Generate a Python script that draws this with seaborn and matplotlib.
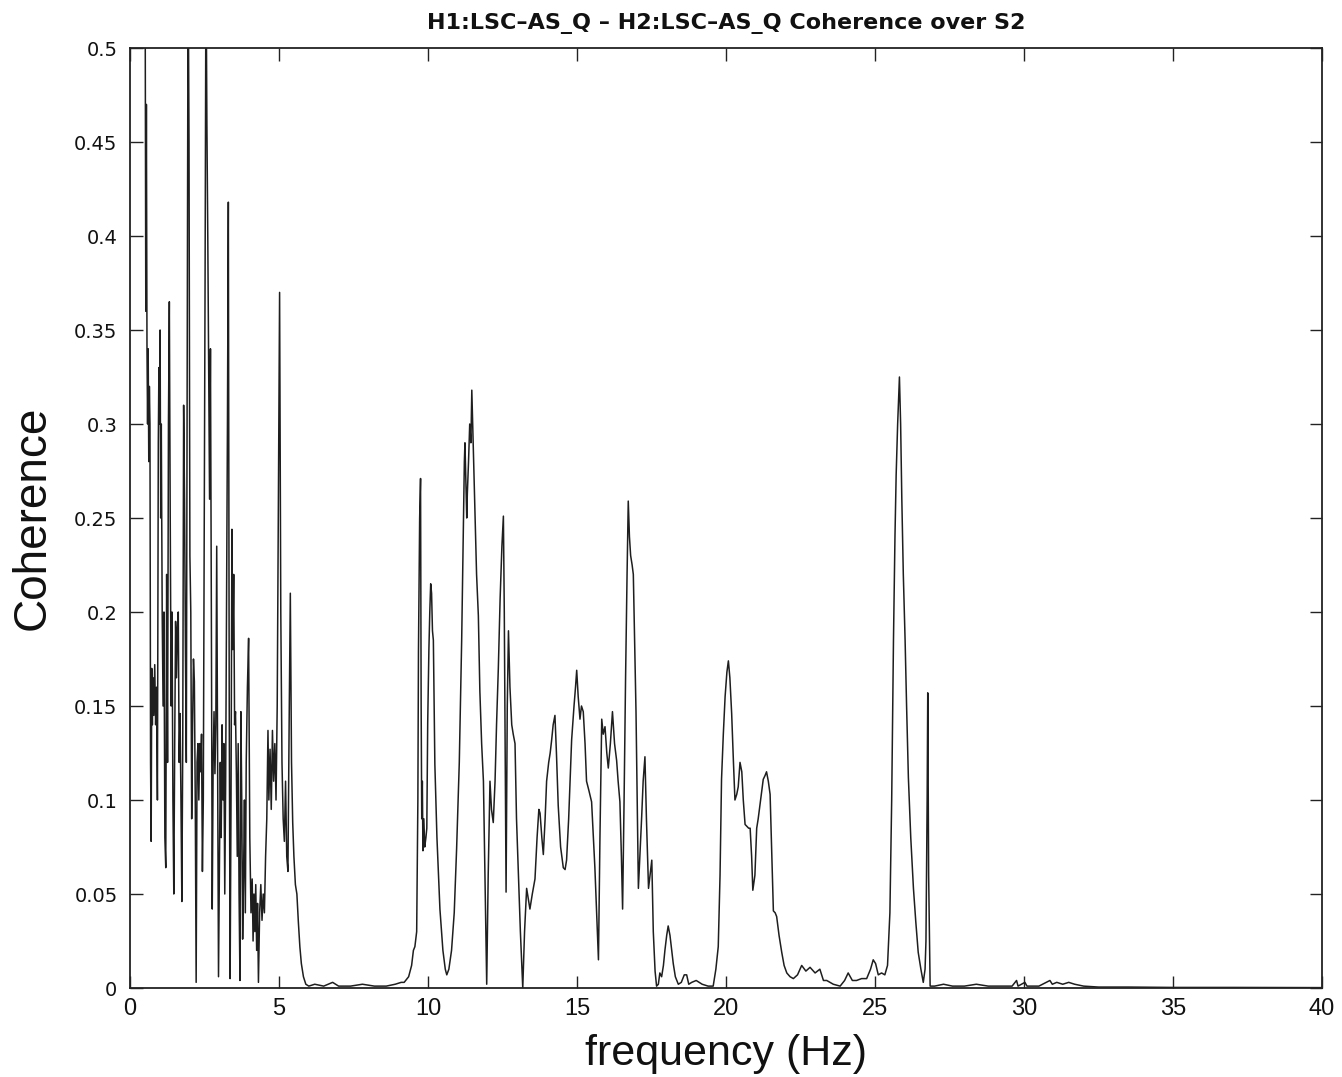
import numpy as np
import pandas as pd
import matplotlib
matplotlib.use("Agg")
import matplotlib.pyplot as plt
import seaborn as sns
from matplotlib import font_manager

# ---------------- data ----------------
f_low = [0.50, 0.53, 0.55, 0.57, 0.59, 0.61, 0.63, 0.65, 0.67, 0.69, 0.71, 0.73, 0.75, 0.77, 0.80,
         0.83, 0.86, 0.89, 0.92, 0.95, 0.97, 0.99, 1.01, 1.03, 1.05, 1.08, 1.11, 1.14, 1.17, 1.20,
         1.23, 1.26, 1.29, 1.32, 1.35, 1.38, 1.41, 1.44, 1.47, 1.50, 1.53, 1.56, 1.59, 1.62, 1.65,
         1.68, 1.71, 1.74, 1.77, 1.80, 1.83, 1.86, 1.89, 1.92, 1.95, 1.98, 2.01, 2.04, 2.07, 2.10,
         2.13, 2.16, 2.19, 2.22, 2.25, 2.28, 2.31, 2.34, 2.37, 2.40, 2.43, 2.46, 2.49, 2.52, 2.55,
         2.58, 2.61, 2.64, 2.67, 2.70, 2.73, 2.76, 2.79, 2.82, 2.85, 2.88, 2.91, 2.94, 2.97, 3.00,
         3.03, 3.06, 3.09, 3.12, 3.15, 3.18, 3.21, 3.24, 3.27, 3.30, 3.33, 3.36, 3.39, 3.42, 3.45,
         3.48, 3.51, 3.54, 3.57, 3.60, 3.63, 3.66, 3.69, 3.72, 3.75, 3.78, 3.81, 3.84, 3.87, 3.90,
         3.94, 3.98, 4.02, 4.06, 4.10, 4.13, 4.16, 4.19, 4.22, 4.25, 4.28, 4.31, 4.35, 4.39, 4.43,
         4.47, 4.51, 4.55, 4.59, 4.63, 4.66, 4.70, 4.74, 4.78, 4.82, 4.86, 4.90, 4.94, 4.98, 5.02,
         5.06, 5.10, 5.14, 5.18, 5.22, 5.26, 5.30, 5.34, 5.38, 5.42, 5.46, 5.50, 5.55, 5.60, 5.65,
         5.70, 5.75, 5.82, 5.90, 6.00]
c_low = [0.60, 0.36, 0.47, 0.34, 0.30, 0.34, 0.28, 0.32, 0.30, 0.12, 0.078, 0.17, 0.14, 0.165, 0.145,
         0.172, 0.14, 0.16, 0.10, 0.29, 0.33, 0.30, 0.35, 0.25, 0.30, 0.20, 0.15, 0.20, 0.08, 0.064,
         0.22, 0.12, 0.30, 0.365, 0.25, 0.15, 0.20, 0.10, 0.05, 0.13, 0.195, 0.165, 0.19, 0.20, 0.12,
         0.146, 0.10, 0.046, 0.13, 0.31, 0.26, 0.18, 0.12, 0.35, 0.55, 0.45, 0.23, 0.20, 0.09, 0.14,
         0.175, 0.163, 0.10, 0.003, 0.12, 0.13, 0.10, 0.13, 0.115, 0.135, 0.062, 0.10, 0.24, 0.38, 0.55,
         0.46, 0.40, 0.33, 0.26, 0.34, 0.20, 0.042, 0.12, 0.147, 0.114, 0.14, 0.235, 0.12, 0.006, 0.06,
         0.12, 0.08, 0.14, 0.10, 0.13, 0.05, 0.11, 0.20, 0.30, 0.418, 0.15, 0.005, 0.10, 0.244, 0.18,
         0.22, 0.14, 0.147, 0.114, 0.07, 0.13, 0.05, 0.004, 0.147, 0.10, 0.026, 0.06, 0.10, 0.04, 0.12,
         0.16, 0.186, 0.08, 0.04, 0.058, 0.025, 0.05, 0.03, 0.055, 0.02, 0.045, 0.003, 0.04, 0.055, 0.036,
         0.05, 0.04, 0.07, 0.09, 0.137, 0.10, 0.127, 0.095, 0.137, 0.11, 0.13, 0.10, 0.15, 0.26, 0.37,
         0.20, 0.12, 0.09, 0.078, 0.11, 0.07, 0.062, 0.14, 0.21, 0.12, 0.088, 0.07, 0.055, 0.05, 0.035,
         0.022, 0.013, 0.006, 0.002, 0.001]

f_quiet = [6.2, 6.5, 6.8, 7.0, 7.4, 7.8, 8.2, 8.6, 8.9, 9.1]
c_quiet = [0.002, 0.001, 0.003, 0.001, 0.001, 0.002, 0.001, 0.001, 0.002, 0.003]

f_mid = [9.20, 9.35, 9.45, 9.51, 9.56, 9.62, 9.66, 9.68, 9.72, 9.75, 9.77, 9.79, 9.81, 9.83, 9.86,
         9.89, 9.93, 9.96, 9.99, 10.03, 10.06, 10.09, 10.12, 10.15, 10.18, 10.23, 10.30, 10.40, 10.50,
         10.58, 10.63, 10.70, 10.79, 10.88, 10.96, 11.05, 11.13, 11.19, 11.22, 11.24, 11.27, 11.30,
         11.32, 11.36, 11.40, 11.44, 11.47, 11.50, 11.53, 11.58, 11.63, 11.69, 11.74, 11.80, 11.86,
         11.92, 11.97, 12.02, 12.08, 12.13, 12.19, 12.25, 12.30, 12.36, 12.42, 12.48, 12.53, 12.56,
         12.60, 12.62, 12.66, 12.70, 12.75, 12.81, 12.86, 12.92, 12.97, 13.03, 13.10, 13.18, 13.24,
         13.31, 13.36, 13.42, 13.50, 13.59, 13.66, 13.72, 13.76, 13.82, 13.87, 13.93, 13.98, 14.05,
         14.10, 14.15, 14.20, 14.26, 14.31, 14.37, 14.45, 14.54, 14.60, 14.65, 14.72, 14.82, 14.90,
         14.95, 14.99, 15.04, 15.10, 15.15, 15.21, 15.27, 15.32, 15.40, 15.49, 15.55, 15.60, 15.66,
         15.72, 15.77, 15.83, 15.88, 15.94, 16.00, 16.05, 16.12, 16.19, 16.26, 16.33, 16.38, 16.44,
         16.49, 16.53, 16.58, 16.63, 16.68, 16.72, 16.76, 16.80, 16.85, 16.89, 16.94, 16.98, 17.02,
         17.06, 17.11, 17.17, 17.22, 17.28, 17.33, 17.40, 17.45, 17.51, 17.56, 17.62, 17.67, 17.73,
         17.78, 17.84, 17.90, 17.95, 18.01, 18.06, 18.12, 18.18, 18.23, 18.30, 18.40, 18.50, 18.60,
         18.68, 18.75, 18.85, 19.00, 19.20, 19.40, 19.57]
c_mid = [0.003, 0.006, 0.012, 0.02, 0.022, 0.03, 0.10, 0.179, 0.25, 0.271, 0.15, 0.09, 0.11, 0.073, 0.09,
         0.075, 0.08, 0.085, 0.141, 0.18, 0.20, 0.215, 0.21, 0.19, 0.185, 0.119, 0.08, 0.042, 0.02,
         0.01, 0.007, 0.01, 0.02, 0.04, 0.074, 0.12, 0.185, 0.25, 0.28, 0.29, 0.27, 0.25,
         0.263, 0.28, 0.30, 0.29, 0.318, 0.30, 0.28, 0.254, 0.22, 0.198, 0.158, 0.13, 0.11,
         0.05, 0.002, 0.06, 0.11, 0.095, 0.088, 0.11, 0.14, 0.17, 0.207, 0.235, 0.251, 0.20,
         0.10, 0.051, 0.15, 0.19, 0.16, 0.14, 0.135, 0.13, 0.09, 0.062, 0.03, 0.0, 0.03,
         0.053, 0.048, 0.042, 0.05, 0.058, 0.08, 0.095, 0.093, 0.08, 0.071, 0.09, 0.11, 0.12,
         0.125, 0.132, 0.14, 0.145, 0.125, 0.097, 0.075, 0.064, 0.063, 0.068, 0.09, 0.132, 0.15,
         0.16, 0.169, 0.155, 0.143, 0.15, 0.147, 0.13, 0.11, 0.105, 0.099, 0.08, 0.064, 0.04,
         0.015, 0.08, 0.143, 0.135, 0.139, 0.125, 0.117, 0.13, 0.147, 0.13, 0.121, 0.11, 0.099,
         0.07, 0.042, 0.10, 0.165, 0.22, 0.259, 0.24, 0.23, 0.225, 0.22, 0.18, 0.147, 0.10,
         0.053, 0.07, 0.091, 0.11, 0.123, 0.09, 0.053, 0.06, 0.068, 0.03, 0.009, 0.001, 0.002,
         0.008, 0.006, 0.012, 0.02, 0.028, 0.033, 0.028, 0.02, 0.013, 0.006, 0.002, 0.003, 0.007,
         0.007, 0.002, 0.003, 0.004, 0.002, 0.001, 0.001]

f_high = [19.66, 19.74, 19.80, 19.85, 19.91, 19.97, 20.03, 20.08, 20.13, 20.19, 20.25, 20.30, 20.36,
          20.41, 20.47, 20.53, 20.58, 20.64, 20.70, 20.76, 20.81, 20.86, 20.90, 20.97, 21.03, 21.08,
          21.16, 21.25, 21.31, 21.36, 21.42, 21.48, 21.54, 21.59, 21.65, 21.70, 21.78, 21.87, 21.95,
          22.04, 22.15, 22.26, 22.40, 22.54, 22.68, 22.82, 22.99, 23.15, 23.27, 23.38, 23.60, 23.83,
          23.98, 24.10, 24.24, 24.38, 24.55, 24.72, 24.85, 24.94, 25.02, 25.11, 25.22, 25.33, 25.42,
          25.50, 25.56, 25.62, 25.67, 25.71, 25.76, 25.82, 25.86, 25.90, 25.95, 26.01, 26.06, 26.12,
          26.20, 26.29, 26.37, 26.45, 26.54, 26.62, 26.68, 26.71, 26.75, 26.77, 26.80, 26.85, 27.0,
          27.3, 27.6, 28.0, 28.4, 28.8, 29.2, 29.6, 29.75, 29.8, 30.03, 30.1, 30.5, 30.87, 30.95,
          31.1, 31.3, 31.5, 31.7, 32.0, 32.5, 33.5, 35.0, 37.0, 40.0]
c_high = [0.01, 0.022, 0.06, 0.111, 0.135, 0.155, 0.168, 0.174, 0.165, 0.146, 0.12, 0.10, 0.103,
          0.107, 0.12, 0.115, 0.10, 0.087, 0.086, 0.085, 0.085, 0.07, 0.052, 0.06, 0.085, 0.09,
          0.10, 0.111, 0.113, 0.115, 0.11, 0.103, 0.07, 0.041, 0.04, 0.038, 0.028, 0.019, 0.012,
          0.008, 0.006, 0.005, 0.007, 0.012, 0.009, 0.011, 0.008, 0.01, 0.004, 0.004, 0.002, 0.001,
          0.004, 0.008, 0.004, 0.004, 0.005, 0.005, 0.01, 0.015, 0.013, 0.007, 0.008, 0.007, 0.012,
          0.04, 0.10, 0.185, 0.24, 0.273, 0.30, 0.325, 0.30, 0.26, 0.22, 0.185, 0.15, 0.112,
          0.08, 0.053, 0.035, 0.019, 0.01, 0.003, 0.01, 0.025, 0.10, 0.157, 0.06, 0.001, 0.001,
          0.002, 0.001, 0.001, 0.002, 0.001, 0.001, 0.001, 0.004, 0.001, 0.003, 0.001, 0.001, 0.004, 0.002,
          0.003, 0.002, 0.003, 0.002, 0.001, 0.0005, 0.0005, 0.0003, 0.0003, 0.0002]

x_ticks = [0, 5, 10, 15, 20, 25, 30, 35, 40]
y_ticks = [0, 0.05, 0.1, 0.15, 0.2, 0.25, 0.3, 0.35, 0.4, 0.45, 0.5]
y_ticklabels = ["0", "0.05", "0.1", "0.15", "0.2", "0.25", "0.3", "0.35", "0.4", "0.45", "0.5"]
title_text = "H1:LSC\u2013AS_Q \u2013 H2:LSC\u2013AS_Q Coherence over S2"
x_label = "frequency (Hz)"
y_label = "Coherence"

df = pd.DataFrame({
    "freq": f_low + f_quiet + f_mid + f_high,
    "coh": c_low + c_quiet + c_mid + c_high,
})

# ---------------- style ----------------
sns.set_theme(style="ticks")
avail = {f.name for f in font_manager.fontManager.ttflist}
narrow = "Liberation Sans Narrow" if "Liberation Sans Narrow" in avail else "Liberation Sans"
plt.rcParams["font.family"] = ["DejaVu Sans"]

fig = plt.figure(figsize=(13.42, 10.77), dpi=100)
ax = fig.add_axes([130 / 1342, 1 - 988 / 1077, (1322 - 130) / 1342, (988 - 48) / 1077])

sns.lineplot(data=df, x="freq", y="coh", ax=ax, color="#1e1e1e", linewidth=1.1,
             estimator=None, sort=False)

ax.set_xlim(0, 40)
ax.set_ylim(0, 0.5)
ax.set_xticks(x_ticks)
ax.set_xticklabels([str(t) for t in x_ticks], fontfamily=narrow, fontsize=17)
ax.set_yticks(y_ticks)
ax.set_yticklabels(y_ticklabels, fontfamily="DejaVu Sans", fontsize=14)

ax.tick_params(axis="both", direction="in", length=9, width=1.0, color="#222222",
               top=True, right=True, labelcolor="#111111")
ax.tick_params(axis="y", pad=9)
ax.tick_params(axis="x", pad=7)
for s in ax.spines.values():
    s.set_visible(True)
    s.set_color("#222222")
    s.set_linewidth(1.3)

ax.set_xlabel(x_label, fontfamily=narrow, fontsize=31, color="#111111", labelpad=10)
ax.set_ylabel(y_label, fontfamily=narrow, fontsize=33, color="#111111", labelpad=14)
ax.set_title(title_text, fontfamily="DejaVu Sans", fontweight="bold", fontsize=16,
             color="#111111", pad=14)
ax.grid(False)

fig.savefig("out.png", dpi=100, facecolor="white")
